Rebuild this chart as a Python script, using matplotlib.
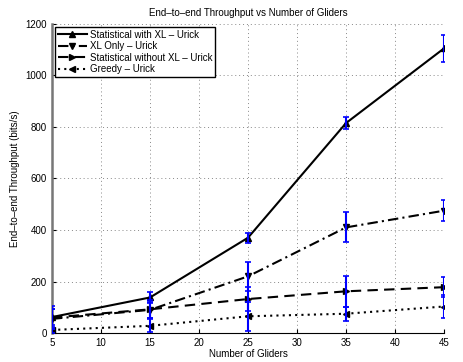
import numpy as np
import matplotlib.pyplot as plt

plt.rcParams['font.family'] = ['Liberation Sans', 'DejaVu Sans']

# throughput vs number of gliders, mean and error bar half-width
gliders = [5, 15, 25, 35, 45]

stat_xl = [62, 138, 370, 815, 1105]
stat_xl_err = [30, 22, 20, 22, 52]

xl_only = [55, 90, 220, 410, 475]
xl_only_err = [40, 30, 57, 58, 42]

stat_noxl = [60, 92, 132, 162, 178]
stat_noxl_err = [45, 35, 48, 60, 38]

greedy = [12, 28, 65, 75, 103]
greedy_err = [10, 25, 56, 27, 45]

labels = ['Statistical with XL \u2013 Urick', 'XL Only \u2013 Urick',
          'Statistical without XL \u2013 Urick', 'Greedy \u2013 Urick']

fig = plt.figure(figsize=(4.64, 3.62), dpi=100)
ax = fig.add_axes([0.112, 0.080, 0.845, 0.854])

series = [(stat_xl, stat_xl_err, '-', '^'),
          (xl_only, xl_only_err, (0, (5, 2, 1, 2)), 'v'),
          (stat_noxl, stat_noxl_err, (0, (5, 3)), '>'),
          (greedy, greedy_err, (0, (1, 2)), '<')]

for (vals, err, ls, mk), lab in zip(series, labels):
    ax.plot(gliders, vals, color='black', linestyle=ls, marker=mk,
            markersize=5, linewidth=1.5, label=lab, zorder=3)
    ax.errorbar(gliders, vals, yerr=err, fmt='none', ecolor='blue',
                elinewidth=1.5, capsize=2.5, capthick=1.2, zorder=4)

ax.set_xlim(5, 45)
ax.set_ylim(0, 1200)
ax.set_xticks(range(5, 50, 5))
ax.set_yticks(range(0, 1400, 200))
ax.grid(True, linestyle=(0, (1, 3)), color='#888888', linewidth=0.7)
ax.tick_params(labelsize=7, direction='in', length=3)
ax.spines['top'].set_visible(False)
ax.spines['right'].set_visible(False)
ax.spines['left'].set_color('#777777')
ax.spines['left'].set_linewidth(1.8)

ax.set_title('End\u2013to\u2013end Throughput vs Number of Gliders', fontsize=7)
ax.set_xlabel('Number of Gliders', fontsize=7, labelpad=1)
ax.set_ylabel('End\u2013to\u2013end Throughput (bits/s)', fontsize=7)

leg = ax.legend(loc='upper left', fontsize=7, fancybox=False,
                edgecolor='black', framealpha=1, handlelength=3,
                borderpad=0.3, labelspacing=0.15, handletextpad=0.3,
                borderaxespad=0.3)
leg.get_frame().set_linewidth(1.0)

fig.savefig('out.png', dpi=100)
